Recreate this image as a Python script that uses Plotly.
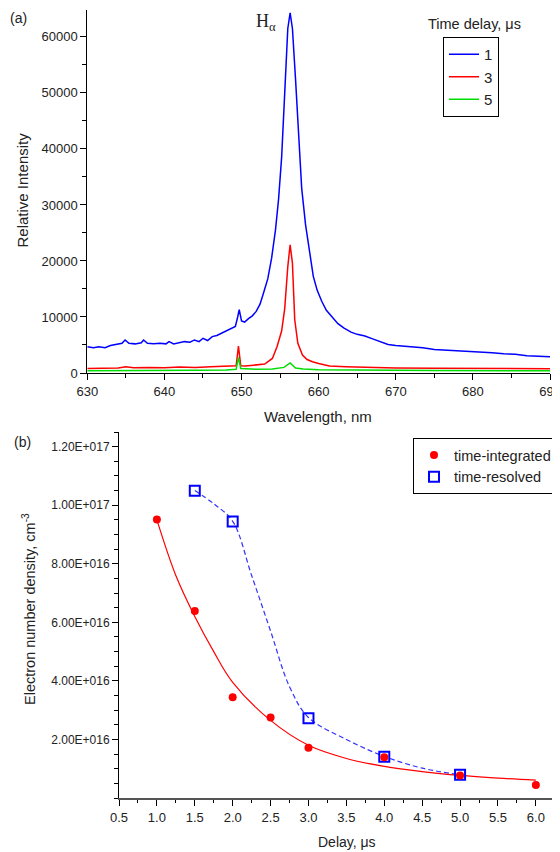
import plotly.graph_objects as go

# ---- panel (a): spectra, time delay 1 / 3 / 5 us ----
wl_1 = [630.0, 630.8, 631.5, 632.3, 633.0, 633.8, 634.5, 634.9, 635.4, 636.2,
        637.0, 637.3, 637.8, 638.6, 639.4, 640.2, 640.6, 641.2, 642.0, 642.6,
        643.3, 643.9, 644.5, 645.0, 645.6, 646.2, 646.8, 647.4, 648.0, 648.6,
        649.2, 649.5, 649.7, 650.0, 650.4, 650.9, 651.4, 651.9, 652.4, 652.9,
        653.4, 653.9, 654.4, 654.8, 655.2, 655.6, 656.0, 656.3, 656.6, 657.0,
        657.4, 657.8, 658.3, 658.8, 659.3, 659.8, 660.4, 661.0, 661.7, 662.5,
        663.3, 664.2, 665.0, 666.0, 667.0, 668.0, 669.0, 670.0, 671.0, 672.0,
        673.5, 675.0, 676.5, 678.0, 679.5, 681.0, 682.5, 684.0, 685.5, 687.0,
        688.5, 690.0]
int_1 = [4700, 4500, 4700, 4500, 4900, 5100, 5300, 5900, 5300, 5200,
         5400, 5900, 5300, 5200, 5300, 5200, 5600, 5200, 5400, 5600,
         5500, 5900, 5600, 6200, 5800, 6500, 6700, 7100, 7500, 7900,
         8300, 10000, 11300, 9300, 9100, 9700, 10200, 11000, 12300, 14500,
         16800, 20500, 25500, 31000, 38500, 50000, 61500, 64300, 61500, 52500,
         42000, 33000, 26500, 21500, 17300, 14800, 12800, 11200, 10000, 8800,
         8000, 7300, 6900, 6600, 6100, 5600, 5100, 4900, 4800, 4700,
         4500, 4200, 4100, 3950, 3800, 3700, 3600, 3450, 3350, 3100,
         3000, 2900]

wl_3 = [630, 632, 634, 635, 636, 638, 640, 642, 644, 646, 648, 649.3, 649.6,
        649.9, 650.5, 652, 653, 654, 654.6, 655.2, 655.6, 656.0, 656.3, 656.6,
        656.9, 657.3, 657.9, 658.5, 659.2, 660, 661.4, 663.5, 666, 670, 675,
        680, 685, 690]
int_3 = [800, 850, 900, 1100, 950, 1000, 950, 1050, 1000, 1100, 1200, 1300, 4800,
         1300, 1250, 1400, 1600, 2600, 4700, 7500, 11500, 19000, 22900, 19600,
         9500, 5300, 3200, 2400, 2000, 1700, 1250, 1130, 1000, 900, 850,
         800, 800, 750]

wl_5 = [630, 633, 636, 640, 644, 648, 649.3, 649.6, 649.9, 652, 654, 655.5,
        656.3, 657.0, 658, 660, 665, 670, 675, 680, 685, 690]
int_5 = [400, 450, 500, 450, 500, 550, 650, 2800, 800, 650, 700, 1000,
         1800, 900, 700, 600, 500, 500, 450, 450, 400, 400]

# ---- panel (b): electron number density vs delay ----
delay_int = [1.0, 1.5, 2.0, 2.5, 3.0, 4.0, 5.0, 6.0]
ne_int = [9.51e16, 6.39e16, 3.44e16, 2.75e16, 1.72e16, 1.39e16, 0.77e16, 0.44e16]
delay_res = [1.5, 2.0, 3.0, 4.0, 5.0]
ne_res = [10.49e16, 9.44e16, 2.72e16, 1.41e16, 0.79e16]

# fitted curves
fit_int_x = [1.0, 1.25, 1.5, 1.75, 2.0, 2.5, 3.0, 3.5, 4.0, 4.5, 5.0, 5.5, 6.0]
fit_int_y = [9.5e16, 7.6e16, 6.2e16, 5.0e16, 3.95e16, 2.65e16, 1.8e16, 1.35e16,
             1.08e16, 0.9e16, 0.77e16, 0.68e16, 0.61e16]
fit_res_x = [1.5, 1.75, 2.0, 2.25, 2.5, 2.75, 3.0, 3.5, 4.0, 4.5, 5.0]
fit_res_y = [10.5e16, 10.05e16, 9.45e16, 7.6e16, 5.7e16, 3.8e16, 2.75e16, 2.0e16,
             1.42e16, 1.02e16, 0.79e16]

yb_tickvals = [2e16, 4e16, 6e16, 8e16, 1e17, 1.2e17]
yb_ticktext = ["2.00E+016", "4.00E+016", "6.00E+016", "8.00E+016",
               "1.00E+017", "1.20E+017"]

FONT = "Arial, Liberation Sans, sans-serif"
# page body keeps its default 8px margin, so the figure is shrunk by it
OFF = 8
W, H = 560 - OFF, 852 - OFF


def px(x):
    return (x - OFF) / W


def py(y):
    return 1 - (y - OFF) / H


def note(text, x, y, size=14, **kw):
    font = dict(family=kw.pop("family", FONT), size=size, color="#222")
    return dict(text=text, x=px(x), y=py(y), xref="paper", yref="paper",
                xanchor="center", yanchor="middle", showarrow=False,
                font=font, **kw)


fig = go.Figure()

for wl, val, name, col in [(wl_1, int_1, "1", "#0000ff"),
                           (wl_3, int_3, "3", "#ff0000"),
                           (wl_5, int_5, "5", "#00dd00")]:
    fig.add_trace(go.Scatter(x=wl, y=val, mode="lines", name=name,
                             line=dict(color=col, width=1.5),
                             xaxis="x", yaxis="y", legend="legend"))

fig.add_trace(go.Scatter(x=fit_res_x, y=fit_res_y, mode="lines", showlegend=False,
                         line=dict(color="#3333ff", width=1.2, dash="5px,3px", shape="spline"),
                         xaxis="x2", yaxis="y2"))
fig.add_trace(go.Scatter(x=fit_int_x, y=fit_int_y, mode="lines", showlegend=False,
                         line=dict(color="#ff0000", width=1.2, shape="spline"),
                         xaxis="x2", yaxis="y2"))
fig.add_trace(go.Scatter(x=delay_res, y=ne_res, mode="markers", name="time-resolved",
                         marker=dict(symbol="square-open", size=10, color="#0000ff",
                                     line=dict(width=2)),
                         xaxis="x2", yaxis="y2", legend="legend2"))
fig.add_trace(go.Scatter(x=delay_int, y=ne_int, mode="markers", name="time-integrated",
                         marker=dict(symbol="circle", size=8, color="#ff0000"),
                         xaxis="x2", yaxis="y2", legend="legend2"))

axis_common = dict(showline=True, linecolor="black", linewidth=1, ticks="outside",
                   ticklen=6, tickcolor="black", showgrid=False, zeroline=False,
                   automargin=False, ticklabeloverflow="allow",
                   tickfont=dict(family=FONT, size=13, color="#222"))

fig.update_layout(
    width=W, height=H,
    margin=dict(l=0, r=0, t=0, b=0),
    paper_bgcolor="white", plot_bgcolor="white",
    font=dict(family=FONT, color="#222"),
    xaxis=dict(axis_common, domain=[px(87.3), px(550)], range=[630, 690],
               dtick=10, minor=dict(dtick=5, ticks="outside", ticklen=4),
               anchor="y"),
    yaxis=dict(axis_common, domain=[py(373), py(10)], range=[0, 64800],
               dtick=10000, tickformat="d",
               minor=dict(dtick=5000, ticks="outside", ticklen=4),
               anchor="x"),
    xaxis2=dict(axis_common, domain=[px(119), px(558.6)], range=[0.5, 6.3],
                dtick=0.5, tickformat=".1f",
                minor=dict(dtick=0.25, ticks="outside", ticklen=3),
                linecolor="#555", linewidth=2, anchor="y2"),
    yaxis2=dict(axis_common, domain=[py(798), py(432)], range=[0, 1.25e17],
                tickvals=yb_tickvals, ticktext=yb_ticktext,
                tickfont=dict(family=FONT, size=12, color="#222"),
                minor=dict(dtick=5e15, ticks="outside", ticklen=4),
                anchor="x2"),
    legend=dict(x=px(443), y=py(37), xanchor="left", yanchor="top",
                bordercolor="black", borderwidth=1, bgcolor="white",
                font=dict(family=FONT, size=15, color="#222"),
                itemwidth=30, tracegroupgap=0),
    legend2=dict(x=px(413), y=py(438), xanchor="left", yanchor="top",
                 bordercolor="black", borderwidth=1, bgcolor="white",
                 font=dict(family=FONT, size=14.5, color="#222"),
                 traceorder="reversed", tracegroupgap=0),
    annotations=[
        note("(a)", 18, 18),
        note("(b)", 22, 442),
        note("H<sub>α</sub>", 266, 22, size=18,
             family="Liberation Serif, Times New Roman, serif"),
        note("Time delay, μs", 474, 24, size=14.5),
        note("Relative Intensity", 22.5, 190, size=15, textangle=-90),
        note("Wavelength, nm", 318, 416, size=15),
        note("Electron number density, cm<sup>-3</sup>", 29, 609, size=14.5,
             textangle=-90),
        note("Delay, μs", 347, 842),
    ],
)

fig.write_html("out.html")
